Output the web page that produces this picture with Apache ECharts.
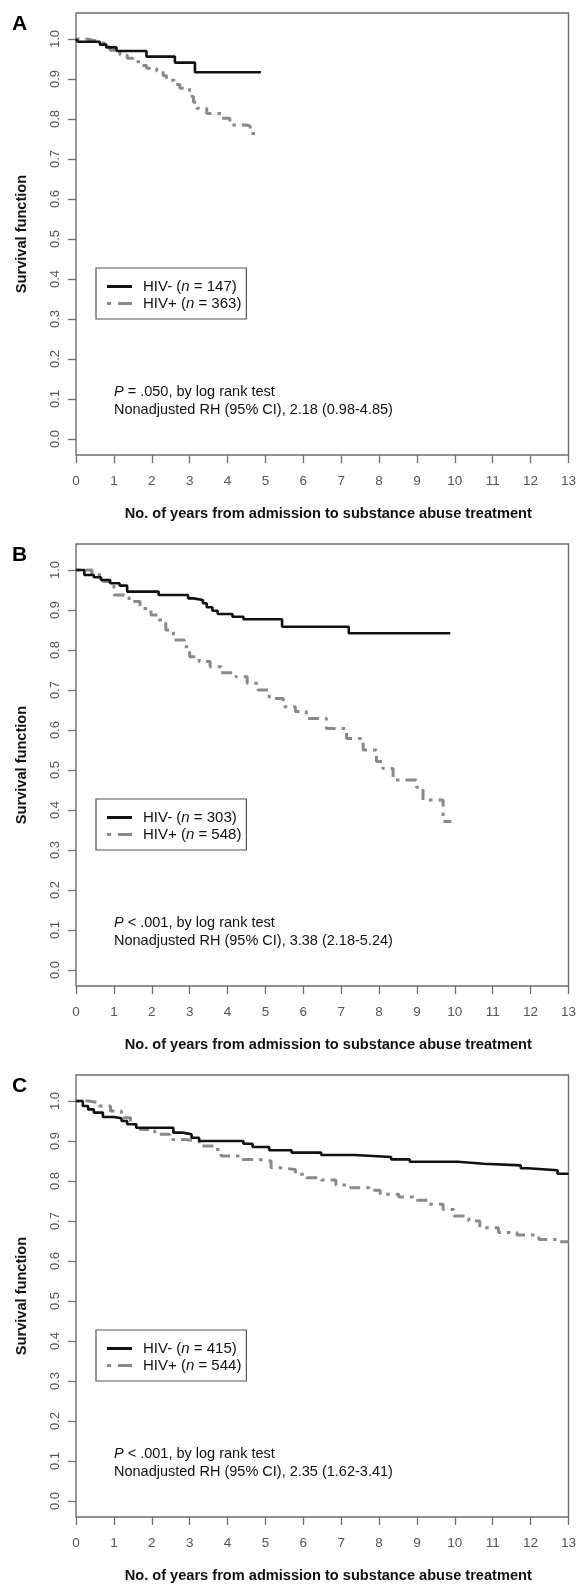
<!DOCTYPE html>
<html>
<head>
<meta charset="utf-8">
<script src="https://cdn.jsdelivr.net/npm/echarts@6/dist/echarts.min.js"></script>
<style>html,body{margin:0;padding:0;background:#fff}#c{width:579px;height:1587px}</style>
</head>
<body>
<div id="c"></div>
<script>
// ---- data (years, survival) ----
const xTicks = [0,1,2,3,4,5,6,7,8,9,10,11,12,13];
const yTicks = [0,0.1,0.2,0.3,0.4,0.5,0.6,0.7,0.8,0.9,1.0];
const panelLetters = ['A','B','C'];
const negNames = ['HIV- (n = 147)','HIV- (n = 303)','HIV- (n = 415)'];
const posNames = ['HIV+ (n = 363)','HIV+ (n = 548)','HIV+ (n = 544)'];
const pLines = ['P = .050, by log rank test','P < .001, by log rank test','P < .001, by log rank test'];
const rhLines = ['Nonadjusted RH (95% CI), 2.18 (0.98-4.85)','Nonadjusted RH (95% CI), 3.38 (2.18-5.24)','Nonadjusted RH (95% CI), 2.35 (1.62-3.41)'];

const aNeg = [[0,1.0],[0.05,0.993],[0.63,0.986],[0.8,0.979],[1.07,0.970],[1.86,0.956],[2.61,0.941],[3.14,0.917],[4.88,0.917]];
const aPos = [[0,1.0],[0.29,0.997],[0.45,0.993],[0.63,0.989],[0.78,0.980],[0.9,0.972],[1.16,0.960],[1.35,0.952],[1.5,0.943],[1.7,0.934],[1.86,0.927],[2.13,0.920],[2.3,0.908],[2.39,0.897],[2.6,0.886],[2.74,0.877],[3.0,0.856],[3.1,0.842],[3.18,0.827],[3.45,0.814],[3.84,0.802],[4.06,0.785],[4.5,0.782],[4.6,0.764],[4.76,0.7575]];
const bNeg = [[0,1.0],[0.22,0.9875],[0.47,0.982],[0.66,0.975],[0.9,0.967],[1.15,0.961],[1.35,0.946],[2.18,0.9375],[2.96,0.929],[3.1,0.925],[3.35,0.917],[3.45,0.907],[3.6,0.898],[3.74,0.89],[4.13,0.883],[4.42,0.877],[5.44,0.858],[7.2,0.842],[9.88,0.842]];
const bPos = [[0,1.0],[0.42,0.9875],[0.71,0.971],[1.0,0.9375],[1.4,0.921],[1.69,0.904],[1.98,0.8875],[2.18,0.875],[2.37,0.85],[2.57,0.825],[2.86,0.808],[3.0,0.783],[3.25,0.771],[3.54,0.758],[3.83,0.743],[4.22,0.733],[4.52,0.717],[4.8,0.70],[5.1,0.679],[5.47,0.658],[5.79,0.646],[6.08,0.629],[6.61,0.604],[7.14,0.579],[7.58,0.55],[7.93,0.521],[8.1,0.504],[8.37,0.475],[8.98,0.457],[9.16,0.425],[9.69,0.371],[9.91,0.371]];
const cNeg = [[0,1.0],[0.18,0.9875],[0.32,0.979],[0.47,0.971],[0.71,0.96],[1.0,0.957],[1.2,0.95],[1.35,0.942],[1.59,0.933],[2.57,0.921],[2.81,0.917],[3.05,0.908],[3.25,0.9],[4.42,0.893],[4.66,0.885],[5.1,0.877],[5.69,0.871],[6.47,0.865],[7.35,0.86],[8.32,0.854],[8.81,0.848],[10.08,0.843],[10.76,0.839],[11.74,0.832],[11.93,0.827],[12.71,0.818],[13.0,0.818]];
const cPos = [[0,1.0],[0.32,0.996],[0.61,0.9875],[0.91,0.975],[1.2,0.958],[1.44,0.942],[1.69,0.929],[2.08,0.917],[2.47,0.904],[2.86,0.9],[3.25,0.8875],[3.64,0.879],[3.83,0.8625],[4.32,0.854],[4.81,0.85],[5.15,0.833],[5.4,0.829],[5.79,0.817],[6.08,0.808],[6.47,0.8025],[6.86,0.79],[7.25,0.783],[7.74,0.777],[8.03,0.767],[8.52,0.76],[8.9,0.752],[9.3,0.742],[9.69,0.729],[9.98,0.7125],[10.37,0.70],[10.66,0.683],[11.15,0.671],[11.64,0.665],[12.22,0.654],[12.71,0.648],[13.0,0.648]];

const negData = [aNeg, bNeg, cNeg];
const posData = [aPos, bPos, cPos];

// ---- layout ----
const FONT = 'Liberation Sans, Arial, Helvetica, sans-serif';
const tops = [13, 544, 1075];
const boxH = 442;
const boxL = 76, boxW = 493;
const NEG_COLOR = '#111', POS_COLOR = '#8a8a8a';
const solidIcon = 'path://M0 0H25V3H0Z';
const dotDashIcon = 'path://M0 0H4V3H0ZM11 0H25V3H11Z';

const chart = echarts.init(document.getElementById('c'), null, {renderer:'canvas'});
const grids = [], xAxes = [], yAxes = [], series = [], legends = [], graphics = [];

tops.forEach((top, i) => {
  grids.push({left: boxL, top: top, width: boxW, height: boxH, show: true,
    borderColor: '#6e6e6e', borderWidth: 1.4, backgroundColor: 'transparent', containLabel: false});
  xAxes.push({type: 'value', gridIndex: i, min: 0, max: 13, interval: 1, position: 'bottom',
    axisLine: {show: false, onZero: false},
    axisTick: {show: true, inside: false, length: 8, lineStyle: {color: '#6e6e6e', width: 1.3}},
    axisLabel: {show: true, margin: 19, color: '#555', fontSize: 13.5, fontFamily: FONT,
      formatter: v => xTicks.indexOf(v) >= 0 ? String(v) : ''},
    splitLine: {show: false},
    name: 'No. of years from admission to substance abuse treatment',
    nameLocation: 'middle', nameGap: 51,
    nameTextStyle: {fontSize: 14.6, fontWeight: 'bold', color: '#111', fontFamily: FONT, padding: [0,0,0,12]}
  });
  yAxes.push({type: 'value', gridIndex: i, min: -0.04, max: 1.065, position: 'left',
    axisLine: {show: false, onZero: false},
    axisTick: {show: true, inside: false, length: 8, customValues: yTicks, lineStyle: {color: '#6e6e6e', width: 1.3}},
    axisLabel: {show: true, rotate: 90, margin: 14, color: '#555', fontSize: 13, fontFamily: FONT,
      customValues: yTicks, formatter: v => v.toFixed(1)},
    splitLine: {show: false},
    name: 'Survival function', nameLocation: 'middle', nameRotate: 90, nameGap: 47,
    nameTextStyle: {fontSize: 14.6, fontWeight: 'bold', color: '#111', fontFamily: FONT}
  });
  series.push({type: 'line', name: posNames[i], xAxisIndex: i, yAxisIndex: i, data: posData[i],
    step: 'end', symbol: 'none', showSymbol: false, z: 2,
    itemStyle: {color: POS_COLOR},
    lineStyle: {color: POS_COLOR, width: 3, type: [3.5, 6, 11, 6], cap: 'butt'}});
  series.push({type: 'line', name: negNames[i], xAxisIndex: i, yAxisIndex: i, data: negData[i],
    step: 'end', symbol: 'none', showSymbol: false, z: 3,
    itemStyle: {color: NEG_COLOR},
    lineStyle: {color: NEG_COLOR, width: 2.6, type: 'solid'}});
  legends.push({
    data: [{name: negNames[i], icon: solidIcon, itemStyle: {color: NEG_COLOR, borderWidth: 0}},
           {name: posNames[i], icon: dotDashIcon, itemStyle: {color: POS_COLOR, borderWidth: 0}}],
    orient: 'vertical', left: 96, top: top + 255,
    itemWidth: 25, itemHeight: 3, itemGap: 0, padding: [10, 5, 7, 11],
    borderColor: '#555', borderWidth: 1.2, borderRadius: 0, backgroundColor: '#fff',
    selectedMode: false,
    itemStyle: {borderWidth: 0},
    lineStyle: {width: 0},
    formatter: n => n.replace('(n', '({i|n}'),
    textStyle: {fontSize: 15, lineHeight: 17, color: '#111', fontFamily: FONT, padding: [0,0,0,6],
      rich: {i: {fontStyle: 'italic', fontSize: 15, lineHeight: 17, color: '#111', fontFamily: FONT}}}
  });
  graphics.push({type: 'text', left: 12, top: top + 1, z: 10,
    style: {text: panelLetters[i], fontSize: 21, fontWeight: 'bold', fill: '#000', fontFamily: FONT}});
  graphics.push({type: 'text', x: 114, y: top + 379, z: 10,
    style: {text: pLines[i].replace(/^P/, '{i|P}'), fontSize: 14.5, fill: '#111', fontFamily: FONT,
      verticalAlign: 'middle', rich: {i: {fontStyle: 'italic', fontSize: 14.5, fill: '#111', fontFamily: FONT}}}});
  graphics.push({type: 'text', x: 114, y: top + 396.5, z: 10,
    style: {text: rhLines[i], fontSize: 14.5, fill: '#111', fontFamily: FONT, verticalAlign: 'middle'}});
});

chart.setOption({
  animation: false,
  backgroundColor: '#fff',
  textStyle: {fontFamily: FONT},
  grid: grids, xAxis: xAxes, yAxis: yAxes, series: series, legend: legends, graphic: graphics
});
</script>
</body>
</html>
